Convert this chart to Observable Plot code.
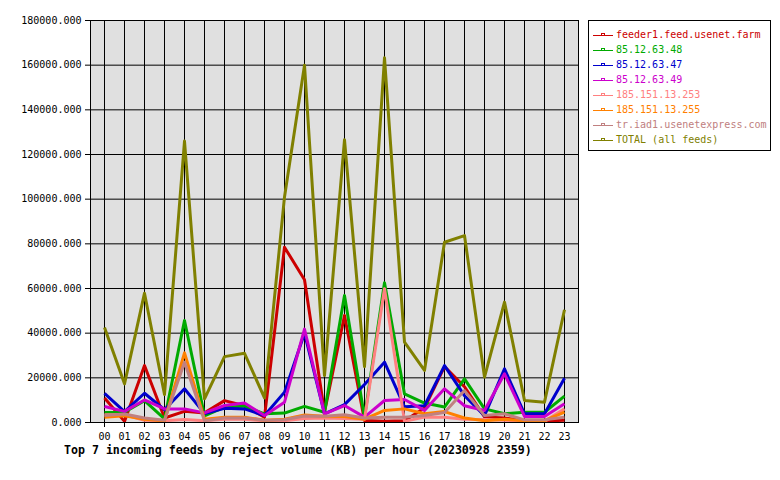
<!DOCTYPE html>
<html>
<head>
<meta charset="utf-8">
<script src="https://cdn.jsdelivr.net/npm/d3@7"></script>
<script src="https://cdn.jsdelivr.net/npm/@observablehq/plot@0.6"></script>
<style>
  html, body { margin: 0; padding: 0; background: #ffffff; }
  #wrap { position: relative; width: 780px; height: 480px; font-family: "DejaVu Sans Mono", monospace; }
  #legend { position: absolute; left: 588px; top: 20px; width: 181px; height: 129px; border: 1px solid #000; background: #fff; }
  .row { position: absolute; left: 0; height: 15px; line-height: 15px; font-size: 10px; white-space: nowrap; }
  .row svg { position: absolute; left: 3px; top: 0; }
  .row span { position: absolute; left: 27px; top: 0; }
  #title { position: absolute; left: 64px; top: 443px; font-size: 11.6px; font-weight: bold; color: #000; white-space: nowrap; }
</style>
</head>
<body>
<div id="wrap">
  <div id="chart"></div>
  <div id="legend"></div>
  <div id="title"></div>
</div>
<script>
const hours = ["00","01","02","03","04","05","06","07","08","09","10","11","12","13","14","15","16","17","18","19","20","21","22","23"];

const feederFarm = [11000, 500, 25500, 2000, 5000, 4300, 9800, 7500, 2400, 78500, 63900, 4600, 47900, 900, 600, 800, 6500, 25000, 16000, 2500, 2000, 800, 700, 1000];
const ip48 = [4500, 4600, 9800, 1600, 45700, 3000, 6900, 7300, 3900, 4200, 7200, 4600, 56900, 2400, 62600, 12800, 8700, 6900, 19500, 6100, 3900, 4600, 4600, 11800];
const ip47 = [13000, 4900, 13100, 5700, 15100, 4000, 6400, 6100, 3100, 13600, 40000, 3900, 8000, 17000, 27000, 7000, 7500, 25500, 12000, 3100, 24000, 3900, 3900, 19800];
const ip49 = [7200, 5000, 10100, 6100, 6100, 4300, 7600, 8700, 3100, 9100, 41800, 3900, 7600, 2400, 9850, 10300, 5400, 15100, 7500, 5400, 21800, 2700, 2700, 8400];
const ip253 = [3500, 3500, 1000, 800, 1300, 800, 1500, 1500, 700, 800, 1800, 2000, 1800, 1500, 59900, 500, 2400, 2400, 1500, 1300, 1000, 500, 500, 6100];
const ip255 = [2400, 3000, 1500, 800, 31200, 1500, 2400, 2400, 1000, 1500, 3400, 2800, 2700, 1500, 5400, 6100, 3900, 4900, 2000, 800, 1500, 800, 800, 4600];
const usenetExpress = [3100, 3800, 2000, 1000, 27000, 800, 2000, 2000, 1000, 1200, 2900, 2800, 3500, 2000, 2400, 2400, 3100, 4500, 14300, 3100, 3900, 1200, 1200, 2400];
const totalAll = [42500, 17300, 57900, 12500, 126000, 10600, 29500, 31000, 11000, 101000, 160000, 21000, 126600, 25000, 163300, 36000, 23300, 80700, 83700, 20300, 53900, 9850, 9100, 50500];

const seriesNames = ["feeder1.feed.usenet.farm", "85.12.63.48", "85.12.63.47", "85.12.63.49", "185.151.13.253", "185.151.13.255", "tr.iad1.usenetexpress.com", "TOTAL (all feeds)"];
const seriesValues = [feederFarm, ip48, ip47, ip49, ip253, ip255, usenetExpress, totalAll];
const seriesColors = ["#cc0000", "#00aa00", "#0000cc", "#cc00cc", "#ff8080", "#ff8000", "#c08080", "#808000"];
const yTicks = [0, 20000, 40000, 60000, 80000, 100000, 120000, 140000, 160000, 180000];
const chartTitle = "Top 7 incoming feeds by reject volume (KB) per hour (20230928 2359)";

const rows = [];
seriesNames.forEach((name, i) => {
  seriesValues[i].forEach((v, j) => rows.push({hour: hours[j], value: v, series: name}));
});

const chart = Plot.plot({
  width: 780,
  height: 480,
  marginLeft: 90,
  marginRight: 202,
  marginTop: 20,
  marginBottom: 58,
  style: {fontFamily: "'DejaVu Sans Mono', monospace", fontSize: "10px", background: "#ffffff", color: "#000"},
  x: {type: "point", domain: hours, padding: 0.5, label: null},
  y: {domain: [0, 180000], label: null},
  color: {domain: seriesNames, range: seriesColors},
  marks: [
    Plot.frame({fill: "#e0e0e0", stroke: null}),
    Plot.gridX({stroke: "#000", strokeOpacity: 1, strokeWidth: 1}),
    Plot.gridY(yTicks, {stroke: "#000", strokeOpacity: 1, strokeWidth: 1}),
    Plot.line(rows, {x: "hour", y: "value", z: "series", stroke: "series", strokeWidth: 3, strokeLinejoin: "round", strokeLinecap: "butt"}),
    Plot.frame({stroke: "#000", strokeWidth: 1}),
    Plot.axisX({tickSize: 5, tickPadding: 5, fontSize: 10}),
    Plot.axisY(yTicks, {tickSize: 5, tickPadding: 4, fontSize: 10, tickFormat: d => d.toFixed(3)})
  ]
});
document.getElementById("chart").appendChild(chart);

const legend = document.getElementById("legend");
seriesNames.forEach((name, i) => {
  const row = document.createElement("div");
  row.className = "row";
  row.style.top = (6 + 15 * i) + "px";
  const c = seriesColors[i];
  row.innerHTML = `<svg width="22" height="15"><line x1="1" x2="21" y1="8.5" y2="8.5" stroke="${c}" stroke-width="1"/><rect x="9.5" y="6.5" width="3" height="2" fill="none" stroke="${c}" stroke-width="1"/></svg><span style="color:${c}">${name}</span>`;
  legend.appendChild(row);
});
document.getElementById("title").textContent = chartTitle;
</script>
</body>
</html>
